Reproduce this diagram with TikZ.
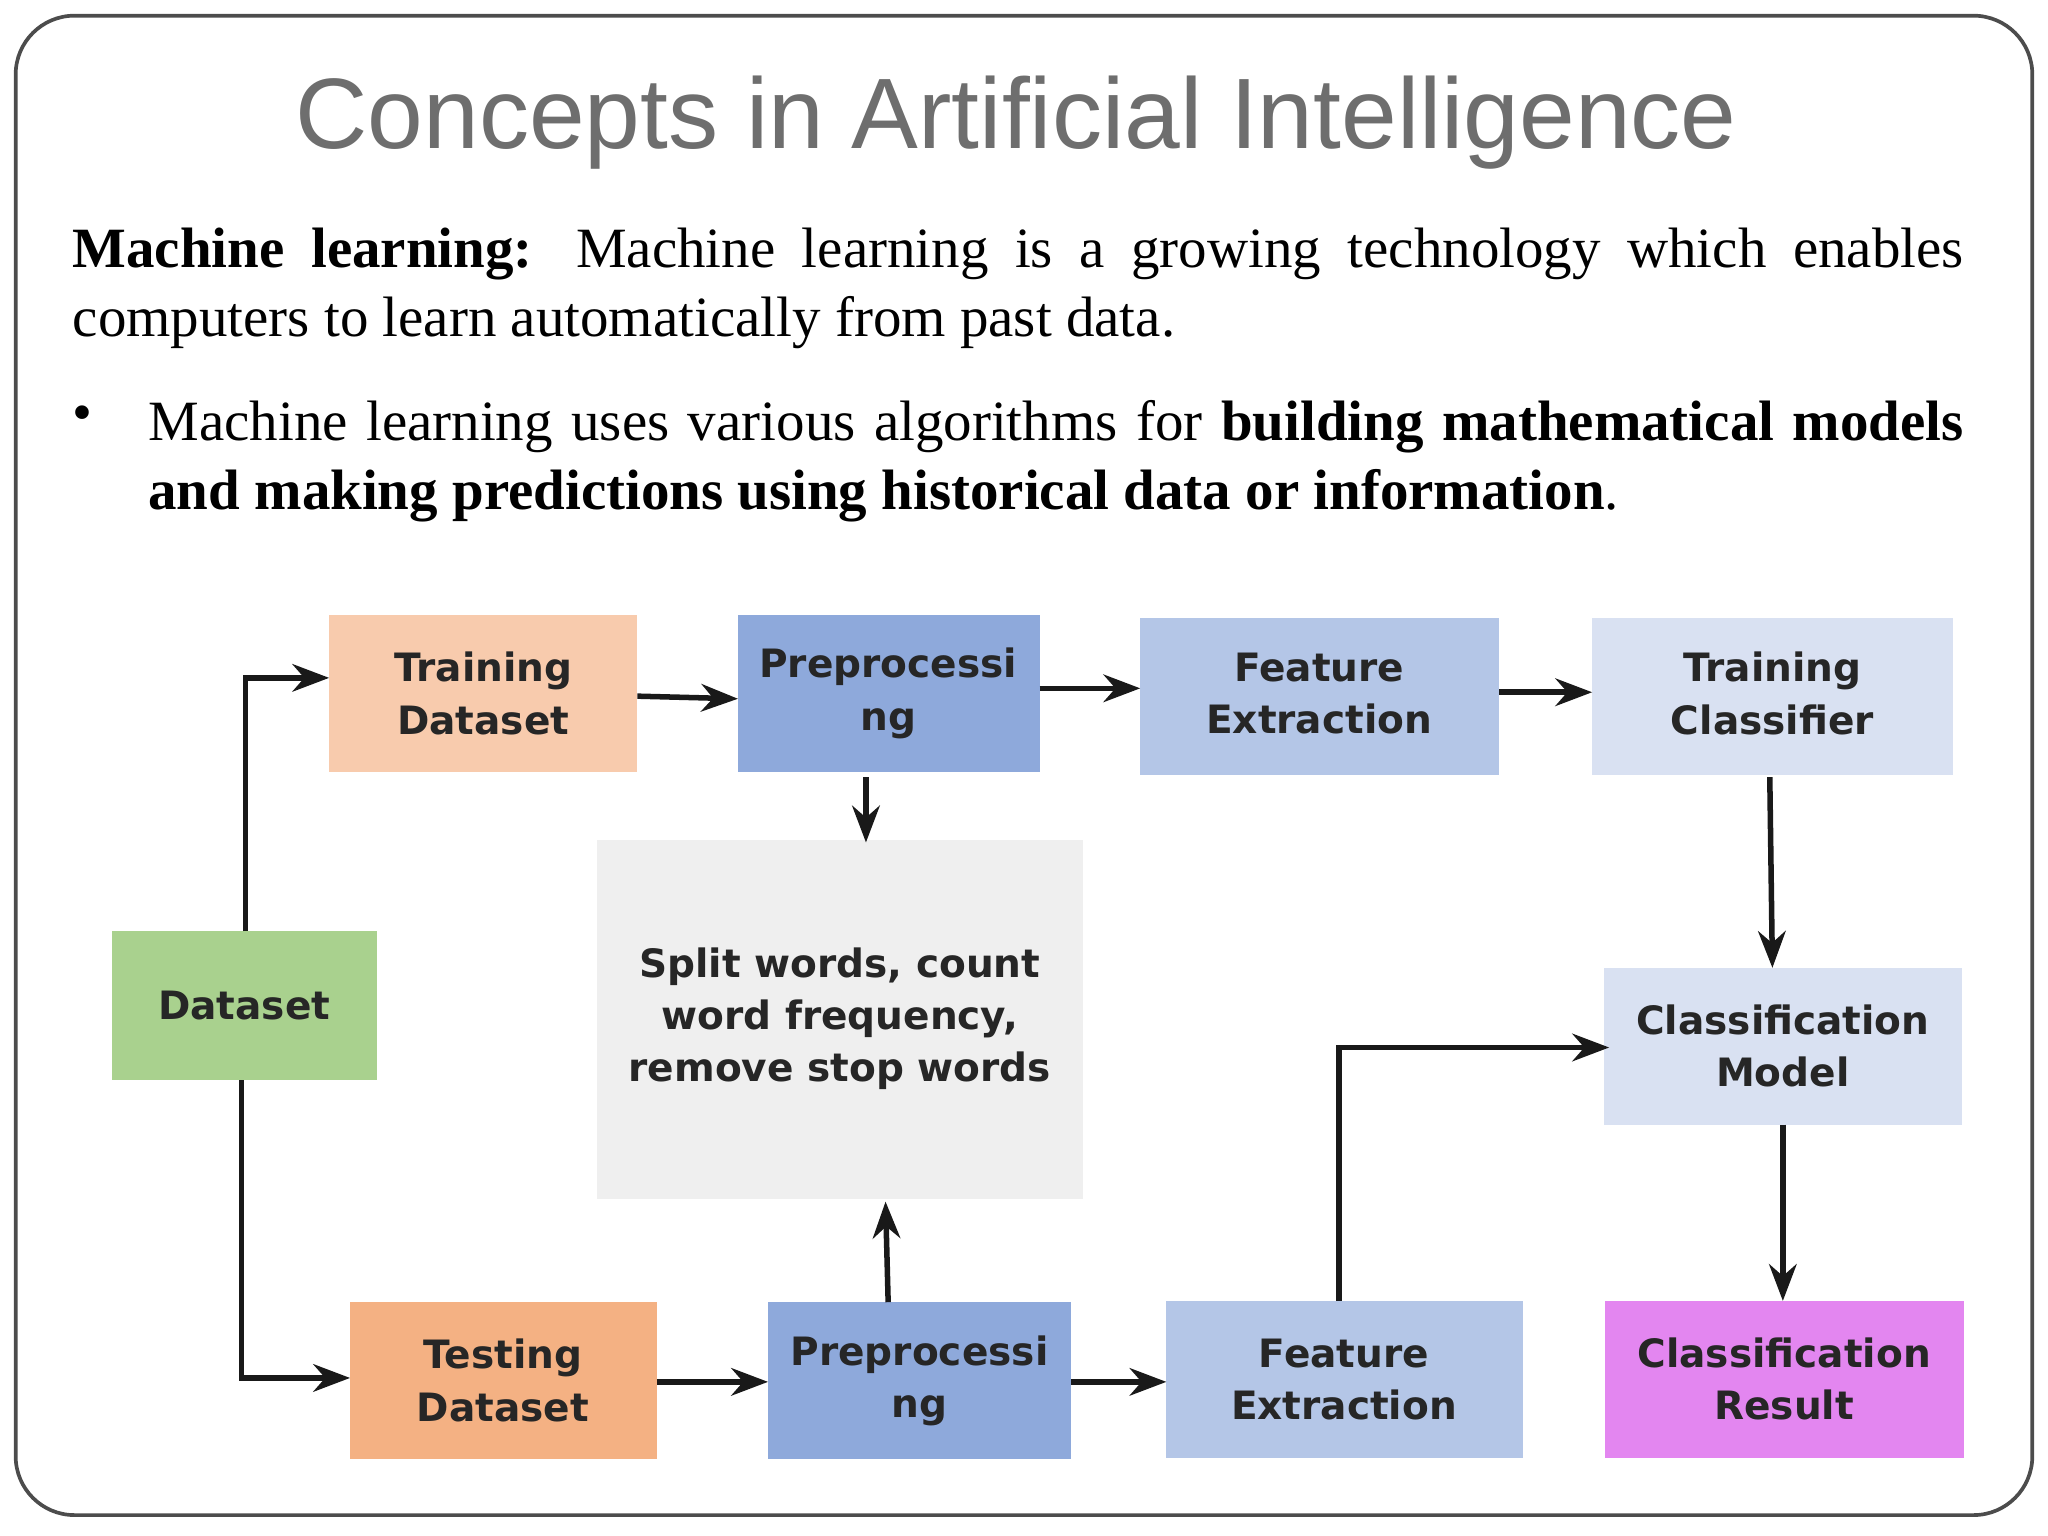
\documentclass[tikz,border=0pt]{standalone}
\usepackage{fontspec}
\setmainfont{Liberation Serif}
\newfontfamily\titlefont{Liberation Sans}
\newfontfamily\boxfont{DejaVu Sans}
\usetikzlibrary{arrows.meta}
\definecolor{peach}{HTML}{F8CBAD}
\definecolor{peachd}{HTML}{F4B183}
\definecolor{prep}{HTML}{8EA9DB}
\definecolor{feat}{HTML}{B4C6E7}
\definecolor{light}{HTML}{D9E1F2}
\definecolor{grn}{HTML}{A9D18E}
\definecolor{splitc}{HTML}{EFEFEF}
\definecolor{mag}{HTML}{E386F0}
\definecolor{titleg}{HTML}{6E6E6E}
\begin{document}
\begin{tikzpicture}[x=0.01cm,y=-0.01cm,
  blk/.style={draw=none,minimum width=#1,align=center,inner sep=0pt,
    font=\boxfont\bfseries\fontsize{8.5}{11.4}\selectfont,text=black!85},
  body/.style={anchor=north west,inner sep=0pt,align=justify,font=\fontsize{12.4}{15}\selectfont},
  arr/.style={-{Stealth[length=8pt,width=6pt]},line width=1.2pt,black!90}]
\useasboundingbox (0,0) rectangle (1568,1176);
\draw[line width=0.8pt,black!70,rounded corners=0.45cm] (12,12) rectangle (1556,1160);
\node[font=\titlefont\fontsize{21.8}{26}\selectfont,text=titleg] (title) at (778,94) {Concepts in Artificial Intelligence};
\node[body,text width=14.47cm] (p1) at (55,174)
 {\hyphenpenalty=10000\textbf{Machine learning:} Machine learning is a growing technology which enables\linebreak computers to learn automatically from past data.};
\node[body] (bul) at (55,310) {\textbullet};
\node[body,text width=13.89cm] (p2) at (113,306)
 {\hyphenpenalty=10000 Machine learning uses various algorithms for \textbf{building mathematical models\linebreak and making predictions using historical data or information}.};
% boxes
\fill[peach] (252,471) rectangle (488,591); \node[blk=2cm] (td) at (370,531) {Training\\Dataset};
\fill[prep] (565,471) rectangle (796,591); \node[blk=2cm] (p1b) at (680,531) {Preprocessi\\ng};
\fill[feat] (873,473) rectangle (1148,593); \node[blk=2cm] (f1) at (1010,531) {Feature\\Extraction};
\fill[light] (1219,473) rectangle (1495,593); \node[blk=2cm] (tc) at (1357,531) {Training\\Classifier};
\fill[grn] (86,713) rectangle (289,827); \node[blk=2cm] (ds) at (187,770) {Dataset};
\fill[splitc] (457,643) rectangle (829,918); \node[blk=2cm] (sp) at (643,780) {Split words, count\\word frequency,\\remove stop words};
\fill[light] (1228,741) rectangle (1502,861); \node[blk=2cm] (cm) at (1365,801) {Classification\\Model};
\fill[peachd] (268,997) rectangle (503,1117); \node[blk=2cm] (te) at (385,1057) {Testing\\Dataset};
\fill[prep] (588,997) rectangle (820,1117); \node[blk=2cm] (p2b) at (704,1057) {Preprocessi\\ng};
\fill[feat] (893,996) rectangle (1166,1116); \node[blk=2cm] (f2) at (1029,1056) {Feature\\Extraction};
\fill[mag] (1229,996) rectangle (1504,1116); \node[blk=2cm] (cr) at (1366,1056) {Classification\\Result};
% anchors
\coordinate (dsT) at (188,713); \coordinate (dsB) at (185,827);
\coordinate (tdW) at (252,519); \coordinate (teW) at (268,1055);
\draw[arr] (dsT) |- (tdW);
\draw[arr] (dsB) |- (teW);
\coordinate (a1) at (488,533); \coordinate (a2) at (565,535);
\draw[arr] (a1) -- (a2);
\coordinate (b1) at (796,527); \coordinate (b2) at (873,527);
\draw[arr] (b1) -- (b2);
\coordinate (c1) at (1148,530); \coordinate (c2) at (1219,530);
\draw[arr] (c1) -- (c2);
\coordinate (d1) at (663,595); \coordinate (d2) at (663,645);
\draw[arr] (d1) -- (d2);
\coordinate (e1) at (680,997); \coordinate (e2) at (678,920);
\draw[arr] (e1) -- (e2);
\coordinate (g1) at (503,1058); \coordinate (g2) at (588,1058);
\draw[arr] (g1) -- (g2);
\coordinate (h1) at (820,1058); \coordinate (h2) at (893,1058);
\draw[arr] (h1) -- (h2);
\coordinate (i1) at (1025,996); \coordinate (i2) at (1232,802);
\draw[arr] (i1) |- (i2);
\coordinate (j1) at (1355,595); \coordinate (j2) at (1357,741);
\draw[arr] (j1) -- (j2);
\coordinate (k1) at (1365,861); \coordinate (k2) at (1365,996);
\draw[arr] (k1) -- (k2);
\end{tikzpicture}
\end{document}
